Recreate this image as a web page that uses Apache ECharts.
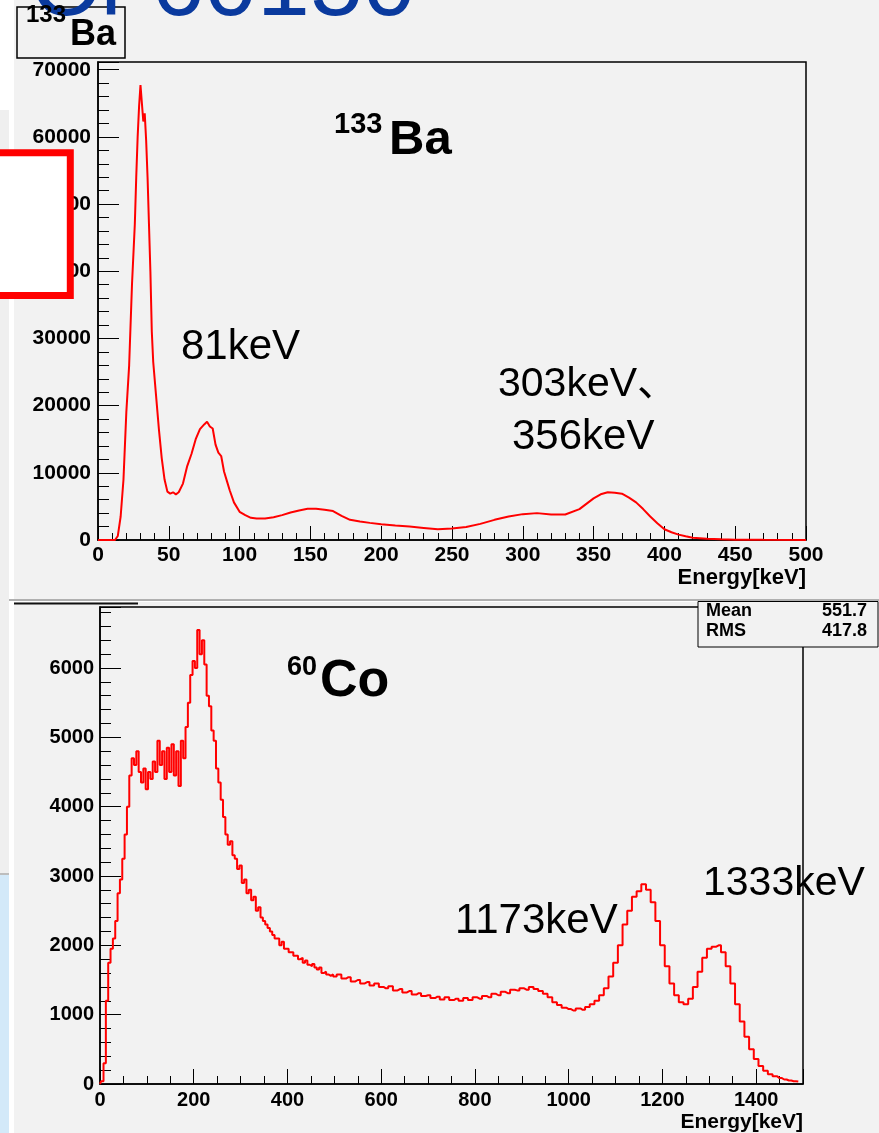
<!DOCTYPE html>
<html>
<head>
<meta charset="utf-8">
<script src="https://cdn.jsdelivr.net/npm/echarts@6/dist/echarts.min.js"></script>
<style>
  html, body { margin: 0; padding: 0; background: #ffffff; }
  #chart { width: 879px; height: 1133px; }
</style>
</head>
<body>
<div id="chart"></div>
<script>
// ---- 133Ba spectrum (energy in keV, counts) ----
const baEnergy = [0, 12, 14, 16, 18, 20, 22, 24, 26, 27, 28, 29, 30, 31, 32, 33, 34, 35, 36, 37, 38, 39,
  41, 43, 45, 47, 49, 51, 53, 55, 57, 60, 63, 66, 69, 72, 75, 77, 79, 81, 83, 85, 87, 89, 91, 93, 96,
  100, 104, 108, 112, 118, 124, 130, 136, 142, 148, 154, 160, 166, 172, 178, 185, 192, 200, 210, 220,
  230, 240, 250, 260, 270, 280, 290, 300, 310, 320, 330, 340, 350, 355, 360, 365, 370, 375, 380, 385,
  390, 395, 400, 405, 410, 415, 420, 430, 440, 450, 470, 500];
const baCounts = [0, 0, 600, 3500, 9000, 19000, 26000, 38000, 47000, 54000, 60000, 64500, 67700, 67700,
  62300, 63500, 59500, 54000, 47000, 40000, 31000, 26500, 21500, 16500, 12200, 9000, 7200, 6900, 7100,
  6800, 7100, 8400, 11000, 12800, 15000, 16500, 17200, 17600, 16900, 16600, 14200, 13000, 12500, 10200,
  8800, 7400, 5600, 4200, 3700, 3300, 3200, 3200, 3400, 3700, 4100, 4400, 4650, 4650, 4500, 4300, 3600,
  3000, 2750, 2550, 2350, 2150, 2000, 1800, 1600, 1700, 1950, 2400, 3000, 3500, 3850, 4000, 3800, 3800,
  4600, 6200, 6800, 7100, 7050, 6900, 6300, 5600, 4600, 3500, 2500, 1600, 1150, 800, 550, 350, 200, 100,
  50, 20, 0];

// ---- 60Co spectrum: 5 keV bins from 0 keV, then 10 keV bins from 500 keV ----
const coFineBinStart = 0, coFineBinWidth = 5;
const coCountsFine = [0, 40, 300, 1200, 1750, 1950, 2100, 2350, 2750, 2950, 3250, 3600, 4000, 4450,
  4700, 4600, 4800, 4500, 4350, 4550, 4250, 4500, 4400, 4650, 4500, 4950, 4600, 4800, 4400, 4850, 4500,
  4900, 4450, 4800, 4300, 4950, 4700, 5150, 5500, 5900, 6100, 6000, 6550, 6200, 6400, 6050, 5600, 5450,
  5100, 4950, 4550, 4350, 4100, 3850, 3600, 3450, 3500, 3300, 3250, 3100, 3150, 2900, 2950, 2750, 2800,
  2650, 2700, 2500, 2550, 2400, 2350, 2300, 2250, 2200, 2150, 2100, 2100, 2000, 2050, 1950, 1950, 1900,
  1900, 1850, 1850, 1800, 1820, 1750, 1780, 1720, 1700, 1730, 1680, 1650, 1680, 1600, 1620, 1580, 1560,
  1580];
const coCoarseBinStart = 500, coCoarseBinWidth = 10;
const coCountsCoarse = [1550, 1580, 1520, 1540, 1480, 1500, 1450, 1470, 1420, 1450, 1400, 1380, 1410,
  1350, 1370, 1320, 1340, 1290, 1310, 1270, 1280, 1240, 1260, 1220, 1250, 1210, 1230, 1200, 1240, 1210,
  1250, 1230, 1270, 1250, 1300, 1280, 1330, 1310, 1360, 1350, 1380, 1360, 1400, 1370, 1340, 1300, 1250,
  1180, 1140, 1100, 1080, 1060, 1090, 1070, 1110, 1150, 1200, 1280, 1380, 1550, 1750, 2000, 2300, 2500,
  2700, 2780, 2880, 2800, 2620, 2350, 2000, 1700, 1450, 1280, 1180, 1150, 1230, 1400, 1620, 1820, 1950,
  1980, 2000, 1900, 1700, 1450, 1150, 900, 680, 500, 360, 260, 190, 140, 110, 85, 65, 50, 40, 35];

// ---- axis settings ----
const baXTicks = { min: 0, max: 500, interval: 50 };
const baYTicks = { min: 0, max: 71150, interval: 10000 };
const coXTicks = { min: 0, max: 1500, interval: 200 };
const coYTicks = { min: 0, max: 6880, interval: 1000 };
const axisTitle = 'Energy[keV]';
const statsRows = [['Mean', '551.7'], ['RMS', '417.8']];

const baData = baEnergy.map((e, i) => [e, baCounts[i]]);
const coData = coCountsFine.map((v, i) => [coFineBinStart + i * coFineBinWidth, v])
  .concat(coCountsCoarse.map((v, i) => [coCoarseBinStart + i * coCoarseBinWidth, v]));

const FONT = '"Liberation Sans", Arial, "Noto Sans CJK JP", sans-serif';
const INK = '#000000';
const SPEC = '#ff0000';

function valueAxis(t, step, opts) {
  return Object.assign({
    type: 'value', min: t.min, max: t.max, interval: t.interval,
    axisLine: { show: true, onZero: false, lineStyle: { color: INK, width: 1.5 } },
    axisTick: { show: true, inside: true, lineStyle: { color: INK, width: 1 } },
    minorTick: { show: true, splitNumber: step, lineStyle: { color: INK, width: 1 } },
    splitLine: { show: false },
    minorSplitLine: { show: false },
    axisLabel: {
      fontFamily: FONT, fontWeight: 'bold', color: INK,
      formatter: v => (v % t.interval === 0 ? String(v) : '')
    }
  }, opts);
}

const chart = echarts.init(document.getElementById('chart'), null, { renderer: 'canvas' });

const xTop = valueAxis(baXTicks, 5, { gridIndex: 0 });
xTop.axisTick.length = 14; xTop.minorTick.length = 7;
xTop.axisLabel.fontSize = 21; xTop.axisLabel.margin = 5;
xTop.name = axisTitle; xTop.nameLocation = 'end'; xTop.nameGap = 0;
xTop.nameTextStyle = { fontFamily: FONT, fontWeight: 'bold', fontSize: 22, color: INK,
  align: 'right', verticalAlign: 'top', padding: [27, 0, 0, 0] };

const yTop = valueAxis(baYTicks, 5, { gridIndex: 0 });
yTop.axisTick.length = 21; yTop.minorTick.length = 11;
yTop.axisLabel.fontSize = 21; yTop.axisLabel.margin = 7;

const xBot = valueAxis(coXTicks, 4, { gridIndex: 1 });
xBot.axisTick.length = 15; xBot.minorTick.length = 8;
xBot.axisLabel.fontSize = 20; xBot.axisLabel.margin = 6;
xBot.name = axisTitle; xBot.nameLocation = 'end'; xBot.nameGap = 0;
xBot.nameTextStyle = { fontFamily: FONT, fontWeight: 'bold', fontSize: 21, color: INK,
  align: 'right', verticalAlign: 'top', padding: [28, 0, 0, 0] };

const yBot = valueAxis(coYTicks, 5, { gridIndex: 1 });
yBot.axisTick.length = 21; yBot.minorTick.length = 11;
yBot.axisLabel.fontSize = 20; yBot.axisLabel.margin = 6;

function txt(x, y, s, size, weight, align) {
  return {
    type: 'text', x: x, y: y, z: 100,
    style: { text: s, fontFamily: FONT, fontSize: size, fontWeight: weight || 'normal',
      fill: INK, align: align || 'left', verticalAlign: 'middle' }
  };
}

const option = {
  animation: false,
  backgroundColor: 'transparent',
  grid: [
    { left: 98, top: 62, width: 708, height: 478, show: true, borderColor: INK, borderWidth: 1.5,
      backgroundColor: 'transparent', containLabel: false },
    { left: 100, top: 607, width: 703, height: 477, show: true, borderColor: INK, borderWidth: 1.5,
      backgroundColor: 'transparent', containLabel: false }
  ],
  xAxis: [xTop, xBot],
  yAxis: [yTop, yBot],
  series: [
    { type: 'line', xAxisIndex: 0, yAxisIndex: 0, data: baData, showSymbol: false, symbol: 'none',
      lineStyle: { color: SPEC, width: 2 }, clip: true, z: 3 },
    { type: 'line', xAxisIndex: 1, yAxisIndex: 1, data: coData, showSymbol: false, symbol: 'none',
      step: 'middle', lineStyle: { color: SPEC, width: 2 }, clip: true, z: 3 }
  ],
  graphic: [
    // canvas panels behind the two histograms
    { type: 'rect', z: -10, silent: true, shape: { x: 14, y: 0, width: 865, height: 599 }, style: { fill: '#f2f2f2' } },
    { type: 'rect', z: -10, silent: true, shape: { x: 14, y: 602, width: 865, height: 531 }, style: { fill: '#f2f2f2' } },
    { type: 'rect', z: -10, silent: true, shape: { x: 0, y: 599, width: 879, height: 2 }, style: { fill: '#b0b0b0' } },
    { type: 'rect', z: -10, silent: true, shape: { x: 0, y: 110, width: 9, height: 763 }, style: { fill: '#efefef' } },
    { type: 'rect', z: -10, silent: true, shape: { x: 0, y: 873, width: 9, height: 2 }, style: { fill: '#bdbdbd' } },
    { type: 'rect', z: -10, silent: true, shape: { x: 0, y: 875, width: 9, height: 258 }, style: { fill: '#d3e9f9' } },

    // histogram title box
    { type: 'rect', z: 90, shape: { x: 17, y: 7, width: 108, height: 51 },
      style: { fill: '#f2f2f2', stroke: INK, lineWidth: 1.5 } },
    txt(26, 15, '133', 24, 'bold'),
    txt(70, 35, 'Ba', 36, 'bold'),

    // slide heading, mostly above the top edge
    { type: 'text', x: 30, y: -11, z: 95,
      style: { text: 'Cf 60150', fontFamily: FONT, fontSize: 95, fill: '#0a3a9e', align: 'left', verticalAlign: 'middle' } },

    // red frame on the slide
    { type: 'rect', z: 96, shape: { x: -10, y: 152.8, width: 80.3, height: 142.6 },
      style: { fill: '#ffffff', stroke: '#ff0000', lineWidth: 7 } },

    // second title box remnant
    { type: 'rect', z: 90, shape: { x: 14, y: 602.5, width: 124, height: 2 }, style: { fill: '#111111' } },

    // statistics box
    { type: 'rect', z: 90, shape: { x: 698, y: 601.5, width: 180, height: 45.5 },
      style: { fill: '#f2f2f2', stroke: INK, lineWidth: 1 } },
    txt(706, 611, statsRows[0][0], 18, 'bold'),
    txt(867, 611, statsRows[0][1], 18, 'bold', 'right'),
    txt(706, 631, statsRows[1][0], 18, 'bold'),
    txt(867, 631, statsRows[1][1], 18, 'bold', 'right'),

    // peak annotations
    txt(334, 125, '133', 29, 'bold'),
    txt(389, 140, 'Ba', 49, 'bold'),
    txt(181, 347, '81keV', 42),
    txt(498, 385, '303keV、', 41),
    txt(512, 437, '356keV', 42),
    txt(287, 668, '60', 27, 'bold'),
    txt(320, 682, 'Co', 52, 'bold'),
    txt(455, 921, '1173keV', 42),
    txt(703, 884, '1333keV', 41)
  ]
};

chart.setOption(option);
</script>
</body>
</html>
